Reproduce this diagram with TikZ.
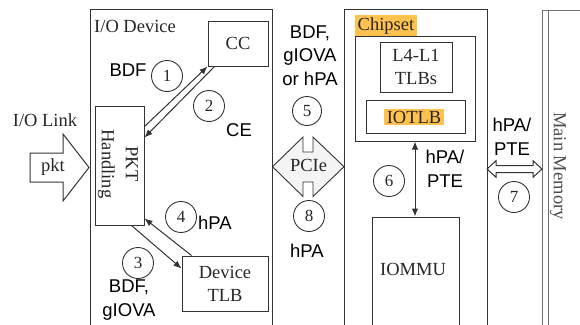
\documentclass[tikz,border=0pt]{standalone}
\usepackage{fontspec}
\setmainfont{Liberation Serif}
\setsansfont{Liberation Sans}
\usetikzlibrary{arrows.meta,calc}
\definecolor{hl}{HTML}{FFC24F}
\definecolor{ln}{HTML}{333333}
\definecolor{memln}{HTML}{707070}
\begin{document}
\begin{tikzpicture}[x=1pt,y=-1pt,
  serif/.style={font=\fontsize{18.5}{23}\selectfont, text=black!85, align=center, inner sep=0pt},
  sans/.style={font=\sffamily\fontsize{18.5}{23.5}\selectfont, align=center, inner sep=0pt},
  box/.style={draw=ln, line width=1pt, inner sep=0pt, serif},
  num/.style={circle, draw=ln, line width=0.9pt, minimum size=31pt, inner sep=0pt,
              font=\fontsize{17}{17}\selectfont, text=black!85},
  arr/.style={draw=ln, line width=1pt, -{Latex[length=8pt,width=6.5pt]}},
  hlbox/.style={fill=hl, inner xsep=2.5pt, inner ysep=2pt}
]
\useasboundingbox (0,0) rectangle (580,324);
\clip (0,0) rectangle (580,324);

% main boxes
\node[box, minimum width=182pt, minimum height=331pt] (iodev) at (181,174.5) {};
\node[box, minimum width=143pt, minimum height=331pt] (chip) at (415.5,174.5) {};
\node[box, draw=memln, minimum width=60pt, minimum height=330pt] (mem) at (572,175) {};
\coordinate (memtop) at (548,10);
\coordinate (membot) at (548,340);
\draw[draw=memln, line width=1pt] (memtop) -- (membot);

% I/O device contents
\node[serif, anchor=base west] (iolabel) at (94,32) {I/O Device};
\node[box, minimum width=60pt, minimum height=45pt] (cc) at (238,43.5) {CC};
\node[box, minimum width=49pt, minimum height=119pt] (pkt) at (119.5,165.5) {};
\node[serif, rotate=-90, font=\fontsize{18.5}{24}\selectfont] (pktlabel) at (118,164) {PKT\\Handling};
\node[box, minimum width=86pt, minimum height=55pt] (dtlb) at (225,283.5) {Device\\TLB};

% chipset contents
\node[serif, hlbox, anchor=base west] (chiplabel) at (355,30) {Chipset};
\node[box, minimum width=120pt, minimum height=105pt] (inner) at (415,88.5) {};
\node[box, minimum width=72pt, minimum height=50pt] (l4) at (416,67) {L4-L1\\TLBs};
\node[box, minimum width=99pt, minimum height=33pt] (iotlbbox) at (415.5,116.5) {};
\node[serif, hlbox] (iotlb) at (414,117) {IOTLB};
\node[box, minimum width=87pt, minimum height=123pt] (iommu) at (415.5,278.5) {};
\node[serif] (iommulabel) at (413,269) {IOMMU};

% main memory label
\node[serif, rotate=-90, text=black!70] (memlabel) at (558,166) {Main Memory};

% I/O link
\node[serif] (iolink) at (45,120) {I/O Link};
\draw[draw=ln, line width=1pt, fill=white]
  (30,153) -- (63,153) -- (63,134) -- (89,167.5) -- (63,201) -- (63,182) -- (30,182) -- cycle;
\node[serif] (pktin) at (53,167) {pkt};

% PCIe
\draw[draw=ln, line width=0.9pt, fill=gray!9]
  (272.5,166.7) -- (303,137) -- (303,152) -- (313,152) -- (313,137) -- (344,166.7)
  -- (313,196.5) -- (313,182) -- (303,182) -- (303,196.5) -- cycle;
\node[serif] (pcie) at (308.5,165) {PCIe};

% memory block arrow
\draw[draw=ln, line width=1pt, fill=white]
  (487,169) -- (496,160.7) -- (496,165.5) -- (533,165.5) -- (533,160.7) -- (542,169)
  -- (533,177.3) -- (533,172.5) -- (496,172.5) -- (496,177.3) -- cycle;

% connectors
\draw[arr] ([yshift=-21pt]pkt.north east) -- (cc.south west);
\draw[arr] ([xshift=7pt]cc.south west) -- ([yshift=-32pt]pkt.north east);
\draw[arr] ([xshift=-13pt]pkt.south east) -- ([yshift=-13pt]dtlb.north west);
\draw[arr] ([xshift=10pt]dtlb.north west) -- ([yshift=7pt]pkt.south east);
\draw[draw=ln, line width=1pt, {Latex[length=8pt,width=6.5pt]}-{Latex[length=8pt,width=6.5pt]}]
  (inner.south) -- (inner.south |- iommu.north);

% numbers
\node[num] (n1) at (167,76) {1};
\node[num] (n2) at (209,106) {2};
\node[num] (n3) at (138,263) {3};
\node[num] (n4) at (181,217) {4};
\node[num, minimum size=29pt] (n5) at (307,111) {5};
\node[num] (n6) at (389,181) {6};
\node[num] (n7) at (514,197) {7};
\node[num] (n8) at (309,216) {8};

% sans labels
\node[sans] (bdf1) at (128,70.5) {BDF};
\node[sans] (ce) at (239,130) {CE};
\node[sans] (hpa4) at (215,223) {hPA};
\node[sans] (bdf3) at (129,300) {BDF,\\gIOVA};
\node[sans] (bdf5) at (310,55.5) {BDF,\\gIOVA\\or hPA};
\node[sans] (hpa8) at (307,251) {hPA};
\node[sans] (hpa6) at (445,169) {hPA/\\PTE};
\node[sans] (hpa7) at (512,137) {hPA/\\PTE};
\end{tikzpicture}
\end{document}
